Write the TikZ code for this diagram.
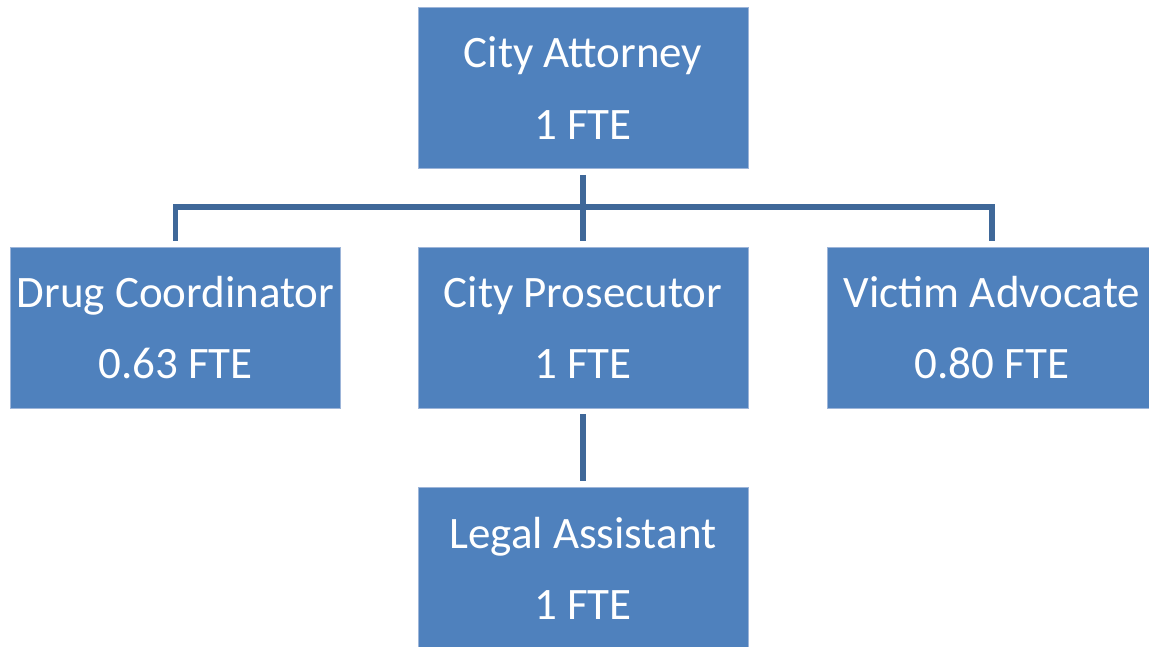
\documentclass[tikz,border=0pt]{standalone}
\usepackage{fontspec}
\setmainfont{Carlito}
\definecolor{boxblue}{HTML}{4F81BD}
\definecolor{edgeblue}{HTML}{9DB5D9}
\definecolor{lineblue}{HTML}{3F6899}
\tikzset{
  post/.style={rectangle, fill=boxblue, draw=edgeblue, line width=0.4pt,
    minimum width=6.6cm, minimum height=3.22cm, text=white, align=center,
    inner sep=0pt, font=\fontsize{25.6}{40.5}\selectfont},
  link/.style={draw=lineblue, line width=2.9pt, shorten <=3.4pt, shorten >=3.4pt}
}
\begin{document}
\begin{tikzpicture}
\useasboundingbox (0,0) rectangle (22.98,12.94);
\node[post] (att) at (11.66,11.18){City Attorney\\1 FTE};
\node[post] (drug) at (3.51,6.39){Drug Coordinator\\0.63 FTE};
\node[post] (pros) at (11.66,6.39){City Prosecutor\\1 FTE};
\node[post] (vic) at (19.84,6.39){Victim Advocate\\0.80 FTE};
\node[post] (legal) at (11.66,1.58){Legal Assistant\\1 FTE};
\coordinate (bus) at (11.66,8.80);
\draw[link, shorten >=0pt](att) -- (bus);
\draw[link, shorten <=0pt](bus) -- (pros);
\draw[link](drug) |- (bus) -| (vic);
\draw[link](pros) -- (legal);
\end{tikzpicture}
\end{document}
